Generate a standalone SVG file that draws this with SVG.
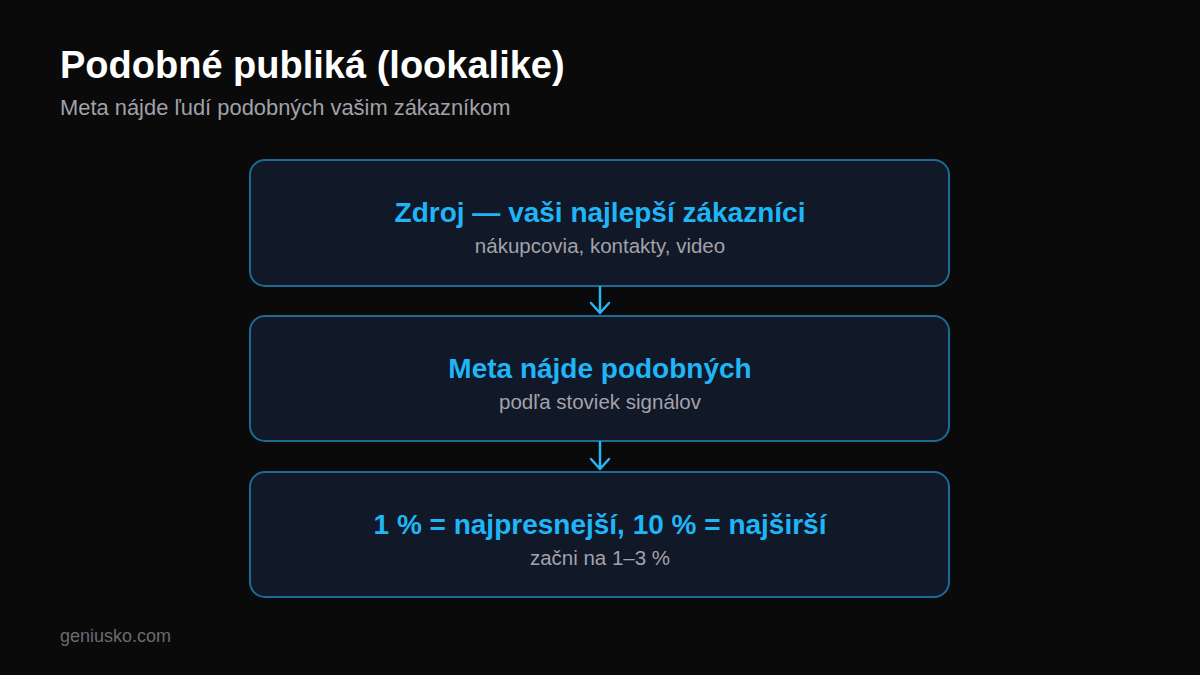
<svg xmlns="http://www.w3.org/2000/svg" width="1200" height="675" viewBox="0 0 1200 675">
<defs>
<style>
.bg{fill:#0a0a0a}
.box{fill:#111827;stroke:#1e6a94;stroke-width:2}
.h{font-family:"Liberation Sans",Arial,sans-serif;font-weight:bold;font-size:28px;fill:#1fb5f7;text-anchor:middle}
.s{font-family:"Liberation Sans",Arial,sans-serif;font-size:20.5px;fill:#a3a3aa;text-anchor:middle}
.conn{stroke:#2ab4f0;stroke-width:2.5;fill:none;stroke-linecap:round;stroke-linejoin:round}
</style>
</defs>
<rect class="bg" x="0" y="0" width="1200" height="675"/>
<text x="60" y="78" font-family="Liberation Sans,Arial,sans-serif" font-weight="bold" font-size="38" fill="#ffffff">Podobné publiká (lookalike)</text>
<text x="60" y="115" font-family="Liberation Sans,Arial,sans-serif" font-size="21.9" fill="#a1a1aa">Meta nájde ľudí podobných vašim zákazníkom</text>
<g id="node1">
<rect class="box" x="250" y="160" width="699" height="126" rx="15"/>
<text class="h" x="600" y="222">Zdroj — vaši najlepší zákazníci</text>
<text class="s" x="600" y="253">nákupcovia, kontakty, video</text>
</g>
<g id="node2">
<rect class="box" x="250" y="316" width="699" height="125" rx="15"/>
<text class="h" x="600" y="378">Meta nájde podobných</text>
<text class="s" x="600" y="409">podľa stoviek signálov</text>
</g>
<g id="node3">
<rect class="box" x="250" y="472" width="699" height="125" rx="15"/>
<text class="h" x="600" y="534">1 % = najpresnejší, 10 % = najširší</text>
<text class="s" x="600" y="565">začni na 1–3 %</text>
</g>
<g id="connectors">
<path class="conn" d="M600 287 V313 M591 303 L600 313 L609 303"/>
<path class="conn" d="M600 442 V469 M591 459 L600 469 L609 459"/>
</g>
<text x="60" y="642" font-family="Liberation Sans,Arial,sans-serif" font-size="18" fill="#6b6b70">geniusko.com</text>
</svg>
